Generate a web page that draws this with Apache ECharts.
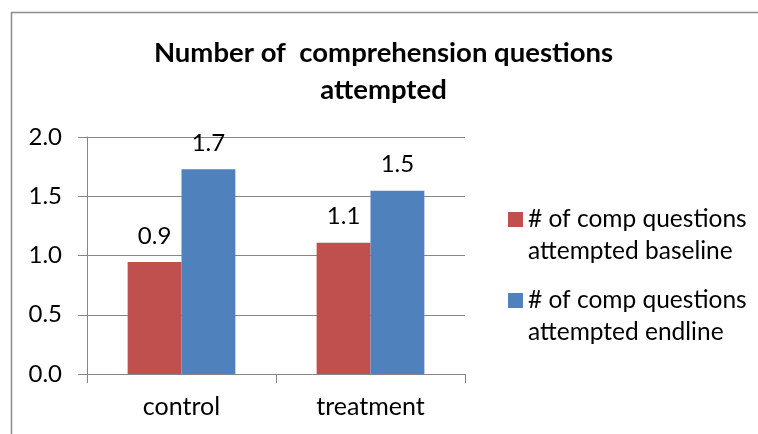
<!DOCTYPE html>
<html>
<head>
<meta charset="utf-8">
<script src="https://cdn.jsdelivr.net/npm/echarts@6/dist/echarts.min.js"></script>
<style>
html,body{margin:0;padding:0;background:#fff;}
#chart{width:758px;height:434px;}
</style>
</head>
<body>
<div id="chart"></div>
<script>
const titleText = 'Number of  comprehension questions\nattempted';
const categories = ['control', 'treatment'];
const seriesNames = ['# of comp questions\nattempted baseline', '# of comp questions\nattempted endline'];
const baselineValues = [0.945, 1.108];
const endlineValues = [1.727, 1.547];
const yTicks = { min: 0, max: 2, interval: 0.5 };

const FONT = 'Lato';
const gridColor = '#868686';
const colors = ['#C0504D', '#4F81BD'];

const chart = echarts.init(document.getElementById('chart'), null, { renderer: 'canvas' });

const legendText = {
  fontFamily: FONT, fontSize: 24.5, color: '#000', lineHeight: 32
};
// an empty first line keeps the icon level with the first text line
const legendFormatter = name => ' \n' + name;

chart.setOption({
  animation: false,
  backgroundColor: '#fff',
  title: {
    text: titleText,
    left: 383.5,
    top: 34.5,
    padding: 0,
    textAlign: 'center',
    textStyle: { fontFamily: FONT, fontSize: 27.5, fontWeight: 'bold', color: '#000', lineHeight: 37 }
  },
  legend: [
    {
      data: [seriesNames[0]], left: 508, top: 171.5, padding: 0,
      itemWidth: 15, itemHeight: 15, icon: 'rect', selectedMode: false,
      formatter: legendFormatter, textStyle: legendText
    },
    {
      data: [seriesNames[1]], left: 508, top: 252.5, padding: 0,
      itemWidth: 15, itemHeight: 15, icon: 'rect', selectedMode: false,
      formatter: legendFormatter, textStyle: legendText
    }
  ],
  grid: { left: 87, right: 293, top: 137, bottom: 60, containLabel: false },
  xAxis: {
    type: 'category',
    data: categories,
    axisLine: { show: true, lineStyle: { color: gridColor, width: 1 } },
    axisTick: { show: true, length: 9, lineStyle: { color: gridColor } },
    axisLabel: { color: '#000', fontFamily: FONT, fontSize: 25, margin: 20 },
    splitLine: { show: false }
  },
  yAxis: {
    type: 'value',
    min: yTicks.min, max: yTicks.max, interval: yTicks.interval,
    axisLine: { show: true, lineStyle: { color: gridColor, width: 1 } },
    axisTick: { show: true, length: 9, lineStyle: { color: gridColor } },
    axisLabel: {
      color: '#000', fontFamily: FONT, fontSize: 24, margin: 25,
      formatter: v => v.toFixed(1)
    },
    splitLine: { show: true, lineStyle: { color: gridColor, width: 1 } }
  },
  series: [
    {
      name: seriesNames[0], type: 'bar', data: baselineValues,
      itemStyle: { color: colors[0] },
      barGap: 0, barCategoryGap: '43%',
      label: { show: true, position: 'top', distance: 14, color: '#000', fontFamily: FONT, fontSize: 24,
               formatter: p => p.value.toFixed(1) }
    },
    {
      name: seriesNames[1], type: 'bar', data: endlineValues,
      itemStyle: { color: colors[1] },
      barGap: 0, barCategoryGap: '43%',
      label: { show: true, position: 'top', distance: 14, color: '#000', fontFamily: FONT, fontSize: 24,
               formatter: p => p.value.toFixed(1) }
    }
  ],
  graphic: [
    {
      type: 'rect', silent: true, z: -1,
      shape: { x: 11.5, y: 12.5, width: 760, height: 440 },
      style: { fill: 'none', stroke: '#8c8c8c', lineWidth: 1.5 }
    }
  ]
});
</script>
</body>
</html>
